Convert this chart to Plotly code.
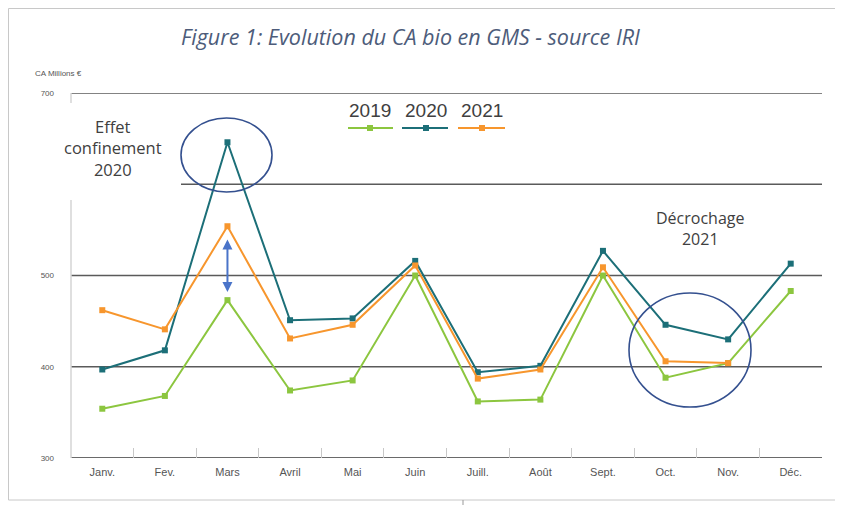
import plotly.graph_objects as go

months = ["Janv.", "Fev.", "Mars", "Avril", "Mai", "Juin", "Juill.", "Août", "Sept.", "Oct.", "Nov.", "Déc."]
ca_2019 = [354, 368, 473, 374, 385, 500, 362, 364, 500, 388, 404, 483]
ca_2020 = [397, 418, 646, 451, 453, 516, 394, 401, 527, 446, 430, 513]
ca_2021 = [462, 441, 554, 431, 446, 511, 387, 397, 509, 406, 404, None]
series = [("2019", ca_2019, "#8cc63f"), ("2020", ca_2020, "#1c6f78"), ("2021", ca_2021, "#f7962d")]
y_ticks = [300, 400, 500, 700]

# page offset introduced by the html body margin
OX, OY = 8, 8
W, H = 843 - OX, 506 - OY
L, R, T, B = 71, 822, 93, 458  # plot area in page pixels

def px(x):
    return (x - L) / (R - L)

def py(y):
    return (B - y) / (B - T)

fig = go.Figure()
for name, vals, col in series:
    fig.add_trace(go.Scatter(
        x=months, y=vals, name=name, mode="lines+markers",
        line=dict(color=col, width=2),
        marker=dict(symbol="square", size=6, color=col),
        showlegend=False, cliponaxis=False,
    ))

shapes = []
grid = "#5a5a5a"
for v in [700, 500, 400]:
    shapes.append(dict(type="line", xref="paper", yref="y", x0=0, x1=1, y0=v, y1=v,
                       line=dict(color=grid, width=1.6), layer="below"))
shapes.append(dict(type="line", xref="paper", yref="y", x0=px(181), x1=1, y0=600, y1=600,
                   line=dict(color=grid, width=1.6), layer="below"))
shapes.append(dict(type="line", xref="paper", yref="y", x0=0, x1=1, y0=300, y1=300,
                   line=dict(color="#6a6a6a", width=2.2), layer="below"))
shapes.append(dict(type="line", xref="paper", yref="paper", x0=0, x1=0, y0=0, y1=py(200),
                   line=dict(color="#d4d4d4", width=1.5), layer="below"))
shapes.append(dict(type="line", xref="paper", yref="paper", x0=0, x1=0, y0=py(103), y1=1,
                   line=dict(color="#d4d4d4", width=1.5), layer="below"))
shapes.append(dict(type="circle", xref="paper", yref="paper", x0=px(181), x1=px(272), y0=py(192), y1=py(118),
                   line=dict(color="#34508f", width=1.6)))
shapes.append(dict(type="circle", xref="paper", yref="paper", x0=px(629), x1=px(751), y0=py(407), y1=py(293),
                   line=dict(color="#34508f", width=1.6)))
shapes.append(dict(type="rect", xref="paper", yref="paper", x0=px(OX + 0.5), x1=px(841), y0=py(500), y1=py(OY + 0.5),
                   line=dict(color="#c8c8c8", width=1), layer="below"))
shapes.append(dict(type="line", xref="paper", yref="paper", x0=px(463), x1=px(463), y0=py(500), y1=py(505),
                   line=dict(color="#999999", width=1)))

annotations = []
leg = [(348, 393, 370), (402, 448, 426), (458, 505, 482)]
for (name, vals, col), (a, b, c) in zip(series, leg):
    shapes.append(dict(type="line", xref="paper", yref="paper", x0=px(a), x1=px(b), y0=py(128), y1=py(128),
                       line=dict(color=col, width=2)))
    shapes.append(dict(type="rect", xref="paper", yref="paper", x0=px(c - 3), x1=px(c + 3), y0=py(131), y1=py(125),
                       line=dict(width=0), fillcolor=col))
    annotations.append(dict(text=name, xref="paper", yref="paper", x=px(c), y=py(110), showarrow=False,
                            font=dict(family="Liberation Sans Narrow, Liberation Sans", size=19, color="#404040"),
                            xanchor="center", yanchor="middle"))

annotations += [
    dict(text="<i>Figure 1: Evolution du CA bio en GMS - source IRI</i>", xref="paper", yref="paper",
         x=px(410), y=py(36), showarrow=False, xanchor="center", yanchor="middle",
         font=dict(family="Open Sans", size=21.5, color="#4d5c7a")),
    dict(text="CA Millions €", xref="paper", yref="paper", x=px(33), y=py(73), showarrow=False,
         xanchor="left", yanchor="middle", font=dict(family="Liberation Sans Narrow, Liberation Sans", size=8, color="#555555")),
    dict(text="Effet<br>confinement<br>2020", xref="paper", yref="paper", x=px(113), y=py(148), showarrow=False,
         xanchor="center", yanchor="middle", align="center",
         font=dict(family="Open Sans", size=16.5, color="#404040")),
    dict(text="Décrochage<br>2021", xref="paper", yref="paper", x=px(700), y=py(228), showarrow=False,
         xanchor="center", yanchor="middle", align="center",
         font=dict(family="Open Sans", size=16, color="#404040")),
    dict(x="Mars", y=482, ax="Mars", ay=541, xref="x", yref="y", axref="x", ayref="y", text="",
         showarrow=True, arrowhead=2, startarrowhead=2, arrowside="end+start", arrowsize=1,
         arrowwidth=2, arrowcolor="#4a74c9"),
]

fig.update_layout(
    width=W, height=H, plot_bgcolor="white", paper_bgcolor="white",
    margin=dict(l=L - OX, r=W - (R - OX), t=T - OY, b=H - (B - OY)),
    xaxis=dict(type="category", categoryorder="array", categoryarray=months, range=[-0.5, 11.5],
               showgrid=False, zeroline=False, showline=False, ticks="inside", tickson="boundaries",
               ticklen=10, tickcolor="#c8c8c8", tickwidth=1.2, ticklabelstandoff=6,
               tickfont=dict(family="Liberation Sans Narrow, Liberation Sans", size=11, color="#555555")),
    yaxis=dict(range=[300, 700], tickvals=y_ticks, showgrid=False, zeroline=False, showline=False,
               ticks="", ticklabelstandoff=16,
               tickfont=dict(family="Liberation Sans Narrow, Liberation Sans", size=8, color="#555555")),
    shapes=shapes, annotations=annotations, showlegend=False,
)
fig.write_html("out.html")
